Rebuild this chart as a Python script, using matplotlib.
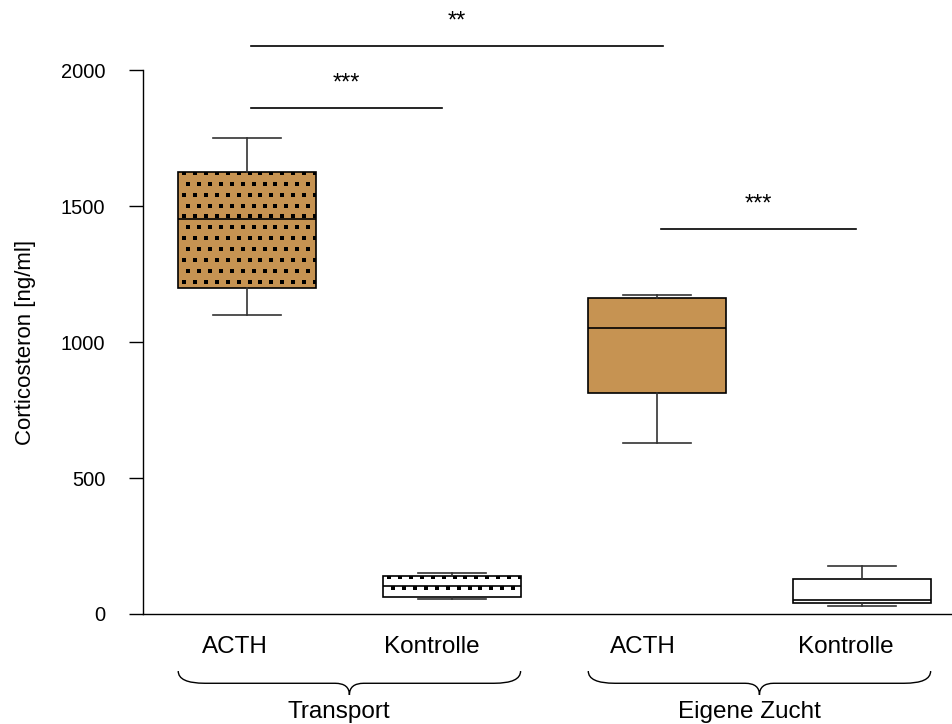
import numpy as np
import matplotlib.pyplot as plt
from matplotlib.path import Path
from matplotlib.patches import PathPatch

plt.rcParams['font.family'] = ['Liberation Sans', 'DejaVu Sans']

# box statistics per group (ng/ml)
positions = [1, 2, 3, 4]
tick_labels = ['ACTH', 'Kontrolle', 'ACTH', 'Kontrolle']
label_shift = [-0.06, -0.1, -0.07, -0.08]
whisker_low = [1100, 55, 628, 28]
q1 = [1200, 62, 812, 40]
median = [1452, 104, 1050, 51]
q3 = [1625, 138, 1162, 128]
whisker_high = [1750, 152, 1175, 176]
fill_colors = ['#C69352', 'white', '#C69352', 'white']
dotted = [True, True, False, False]

groups = ['Transport', 'Eigene Zucht']
group_spans = [(1, 2), (3, 4)]

# significance brackets
sig_x0 = [1.02, 1.02, 3.02]
sig_x1 = [3.03, 1.95, 3.97]
sig_y = [2088, 1860, 1415]
sig_text = ['**', '***', '***']

box_w = 0.67

fig = plt.figure(figsize=(9.53, 7.24), dpi=100)
ax = fig.add_axes([0.150, 0.152, 0.850, 0.751])

stats = []
for i in range(len(positions)):
    stats.append(dict(whislo=whisker_low[i], q1=q1[i], med=median[i],
                      q3=q3[i], whishi=whisker_high[i], fliers=[]))

bp = ax.bxp(stats, positions=positions, widths=box_w, patch_artist=True,
            showfliers=False,
            boxprops=dict(linewidth=1.2, edgecolor='black'),
            medianprops=dict(color='black', linewidth=1.2),
            whiskerprops=dict(color='#333333', linewidth=1.2),
            capprops=dict(color='#333333', linewidth=1.2))

for patch, c in zip(bp['boxes'], fill_colors):
    patch.set_facecolor(c)

# square dot fill for the Transport boxes
for i, patch in enumerate(bp['boxes']):
    if not dotted[i]:
        continue
    left = positions[i] - box_w / 2
    ys = np.arange(q3[i] - 3, q1[i], -40.0)
    xx, yy = [], []
    for r, yv in enumerate(ys):
        shift = 0.02 if r % 2 else 0.0
        xs = np.arange(left + 0.03 + shift, left + box_w, 0.053)
        xx.extend(xs)
        yy.extend([yv] * len(xs))
    sc = ax.scatter(xx, yy, marker='s', s=6, color='black', linewidths=0,
                    zorder=patch.get_zorder() + 0.1)
    sc.set_clip_path(patch)
    # keep the median above the dots
    bp['medians'][i].set_zorder(patch.get_zorder() + 0.2)

ax.set_xlim(0.493, 4.444)
ax.set_ylim(0, 2000)
ax.set_yticks([0, 500, 1000, 1500, 2000])
ax.tick_params(axis='y', length=10, width=1, pad=17, labelsize=14.5)
ax.set_xticks([])
ax.spines['top'].set_visible(False)
ax.spines['right'].set_visible(False)
ax.spines['left'].set_linewidth(1)
ax.spines['bottom'].set_linewidth(1)
ax.set_ylabel('Corticosteron [ng/ml]', fontsize=16, labelpad=18)

for p, lab, dx in zip(positions, tick_labels, label_shift):
    ax.text(p + dx, -122, lab, ha='center', va='center', fontsize=17.5,
            clip_on=False)

for x0, x1, y, t in zip(sig_x0, sig_x1, sig_y, sig_text):
    ax.plot([x0, x1], [y, y], color='black', linewidth=1.2, clip_on=False)
    ax.text((x0 + x1) / 2, y + 92, t, ha='center', va='center',
            fontsize=17, clip_on=False)


def brace(ax, xa, xb, y_tip, y_flat, y_mid, r=0.13, rm=0.07):
    xm = (xa + xb) / 2
    verts = [(xa, y_tip), (xa, y_flat), (xa + r, y_flat),
             (xm - rm, y_flat),
             (xm, y_flat), (xm, y_mid),
             (xm, y_flat), (xm + rm, y_flat),
             (xb - r, y_flat),
             (xb, y_flat), (xb, y_tip)]
    codes = [Path.MOVETO, Path.CURVE3, Path.CURVE3,
             Path.LINETO,
             Path.CURVE3, Path.CURVE3,
             Path.CURVE3, Path.CURVE3,
             Path.LINETO,
             Path.CURVE3, Path.CURVE3]
    ax.add_patch(PathPatch(Path(verts, codes), fill=False, edgecolor='black',
                           linewidth=1, clip_on=False))


for (a, b), name in zip(group_spans, groups):
    brace(ax, a - 0.335, b + 0.335, -210, -255, -298)
    ax.text((a + b) / 2 - 0.05, -362, name, ha='center', va='center',
            fontsize=17.5, clip_on=False)

fig.savefig('out.png', dpi=100)
